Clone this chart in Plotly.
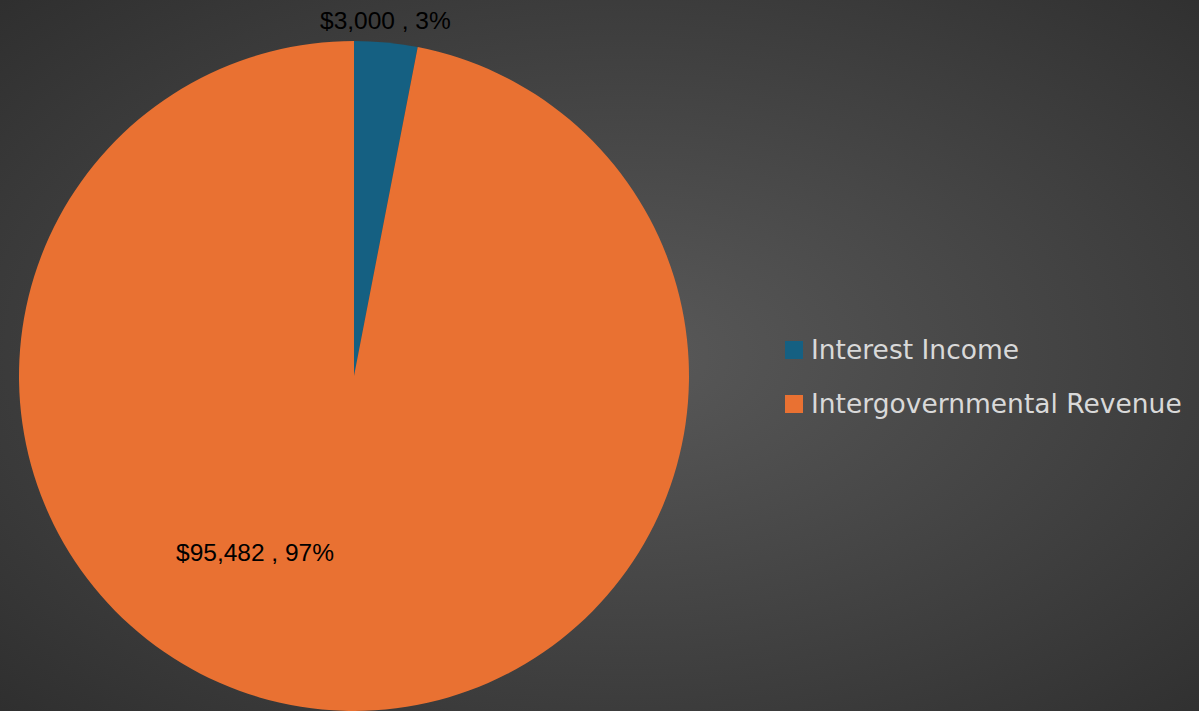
import base64
import plotly.graph_objects as go

# Revenue sources
categories = ["Interest Income", "Intergovernmental Revenue"]
amounts = [3000, 95482]
colors = ["#156082", "#E97132"]

W, H = 1199, 711
total = sum(amounts)
pcts = [round(a / total * 100) for a in amounts]
label_texts = [f"${a:,} , {p}%" for a, p in zip(amounts, pcts)]

# Radial gradient backdrop drawn as an inline SVG image
svg = f"""<svg xmlns='http://www.w3.org/2000/svg' width='{W}' height='{H}'>
<defs><radialGradient id='g' cx='52%' cy='50%' r='72%' gradientUnits='objectBoundingBox'>
<stop offset='0' stop-color='#595959'/><stop offset='1' stop-color='#2f2f2f'/>
</radialGradient></defs>
<rect width='{W}' height='{H}' fill='url(#g)'/></svg>"""
bg_src = "data:image/svg+xml;base64," + base64.b64encode(svg.encode()).decode()

cx, cy, r = 354, 376, 335

fig = go.Figure(
    go.Pie(
        labels=categories,
        values=amounts,
        marker=dict(colors=colors, line=dict(width=0)),
        sort=False,
        direction="clockwise",
        rotation=0,
        textinfo="none",
        hoverinfo="label+value+percent",
        showlegend=False,
        domain=dict(x=[(cx - r) / W, (cx + r) / W], y=[(H - cy - r) / H, (H - cy + r) / H]),
    )
)

# Data labels
label_pos = [(385, 20), (255, 552)]
annotations = []
for txt, (x, y) in zip(label_texts, label_pos):
    annotations.append(dict(
        x=x / W, y=1 - y / H, xref="paper", yref="paper", text=txt, showarrow=False,
        xanchor="center", yanchor="middle",
        font=dict(family="Liberation Sans, Arial", size=24.5, color="#000000"),
    ))

# Legend
shapes = []
leg_x, leg_y0, leg_gap, box = 785, 350, 54, 18
for i, (name, col) in enumerate(zip(categories, colors)):
    yc = leg_y0 + i * leg_gap
    shapes.append(dict(
        type="rect", xref="paper", yref="paper",
        x0=leg_x / W, x1=(leg_x + box) / W,
        y0=1 - (yc + box / 2) / H, y1=1 - (yc - box / 2) / H,
        fillcolor=col, line=dict(width=0),
    ))
    annotations.append(dict(
        x=(leg_x + box + 6) / W, y=1 - (yc - 1) / H, xref="paper", yref="paper", text=name,
        showarrow=False, xanchor="left", yanchor="middle",
        font=dict(family="DejaVu Sans", size=26.5, color="#D9D9D9"),
    ))

fig.update_layout(
    width=W, height=H,
    margin=dict(l=0, r=0, t=0, b=0),
    paper_bgcolor="#404040",
    plot_bgcolor="rgba(0,0,0,0)",
    annotations=annotations,
    shapes=shapes,
    images=[dict(source=bg_src, xref="paper", yref="paper", x=0, y=1, sizex=1, sizey=1,
                 xanchor="left", yanchor="top", sizing="stretch", layer="below")],
)

fig.write_html("out.html")
